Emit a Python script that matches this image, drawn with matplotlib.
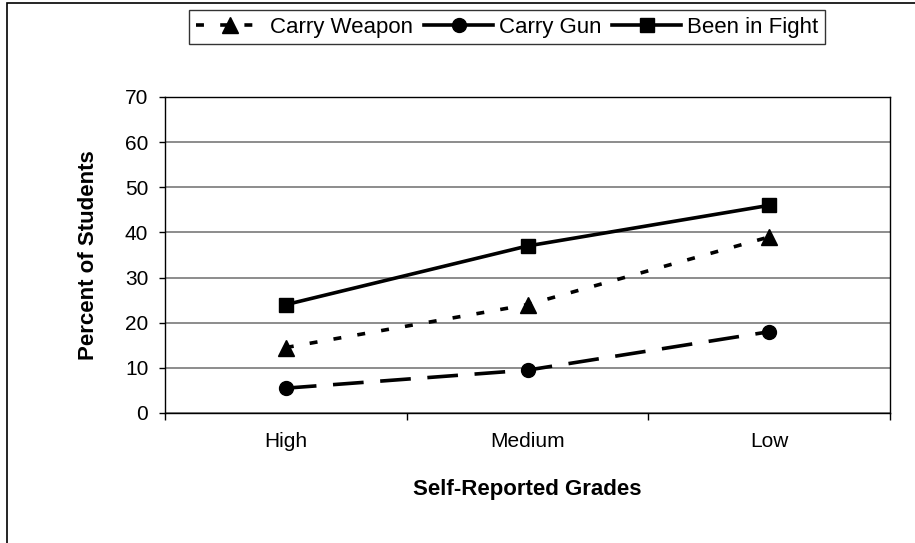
import matplotlib
matplotlib.use("Agg")
import matplotlib.pyplot as plt
from matplotlib.lines import Line2D
from matplotlib.patches import Rectangle

plt.rcParams['font.family'] = ['Liberation Sans', 'DejaVu Sans']

# data
grades = ["High", "Medium", "Low"]
carry_weapon = [14.5, 24, 39]
carry_gun = [5.5, 9.5, 18]
been_in_fight = [24, 37, 46]
y_ticks = [0, 10, 20, 30, 40, 50, 60, 70]

fig = plt.figure(figsize=(9.15, 5.43), dpi=100)
ax = fig.add_axes([165 / 915, 1 - 413 / 543, 725 / 915, 316 / 543])

x = list(range(len(grades)))
lw = 2.6
weapon_ls = (0, (2.2, 4.5))
gun_ls = (0, (8.5, 4.6))

ax.plot(x, carry_weapon, color='black', lw=lw, linestyle=weapon_ls,
        marker='^', markersize=11, zorder=3)
ax.plot(x, carry_gun, color='black', lw=lw, linestyle=gun_ls,
        marker='o', markersize=10, zorder=3)
ax.plot(x, been_in_fight, color='black', lw=lw, linestyle='-',
        marker='s', markersize=10.5, zorder=3)

ax.set_xlim(-0.5, len(grades) - 0.5)
ax.set_ylim(0, 70)
ax.set_yticks(y_ticks)
ax.yaxis.grid(True, color='#6e6e6e', lw=1.1)
ax.set_axisbelow(True)

# category separators as major ticks, labels as minor ticks
ax.set_xticks([i - 0.5 for i in range(len(grades) + 1)])
ax.set_xticklabels([])
ax.set_xticks(x, minor=True)
ax.set_xticklabels(grades, minor=True)
ax.tick_params(axis='x', which='major', length=5, width=1, direction='out')
ax.tick_params(axis='x', which='minor', length=0, pad=14, labelsize=15)
ax.tick_params(axis='y', length=4, width=1, direction='out', pad=8, labelsize=15)

for s in ax.spines.values():
    s.set_color('black')
    s.set_linewidth(1)

ax.set_xlabel("Self-Reported Grades", fontsize=16, fontweight='bold', labelpad=20)
ax.set_ylabel("Percent of Students", fontsize=16, fontweight='bold', labelpad=19)

handles = [
    Line2D([], [], color='black', lw=lw, linestyle=weapon_ls, marker='^', markersize=11),
    Line2D([], [], color='black', lw=lw, linestyle='-', marker='o', markersize=10),
    Line2D([], [], color='black', lw=lw, linestyle='-', marker='s', markersize=10.5),
]
leg = fig.legend(handles, ["Carry Weapon", "Carry Gun", "Been in Fight"],
                 loc='upper center', bbox_to_anchor=(507 / 915, 1 - 10 / 543),
                 ncol=3, fontsize=16, frameon=True, fancybox=False,
                 edgecolor='black', handlelength=3.1, handletextpad=0.25,
                 columnspacing=0.5, borderpad=0.3, borderaxespad=0)
leg.get_frame().set_linewidth(1)

# outer chart border (left and top visible)
fig.patches.append(Rectangle((7 / 915, -0.1), 1.2, 1.1 - 3 / 543,
                             transform=fig.transFigure, fill=False,
                             edgecolor='black', lw=1.2))

fig.savefig("out.png", dpi=100)
